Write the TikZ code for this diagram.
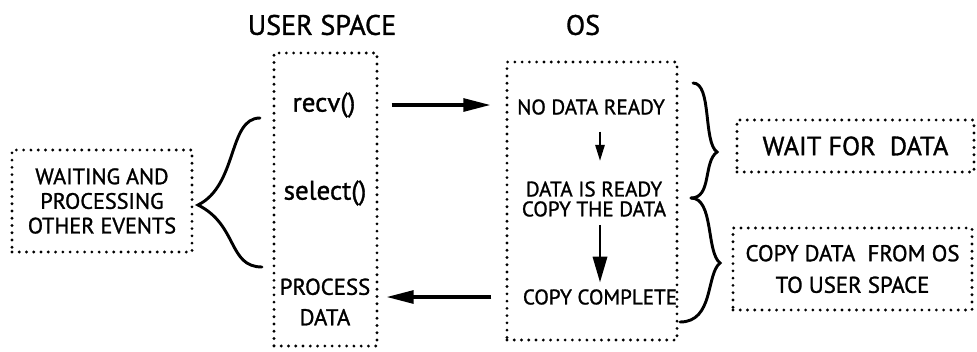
\documentclass[tikz,border=0pt]{standalone}
\usepackage{fontspec}
\setmainfont{PT Sans}[FakeBold=1.2]
\usetikzlibrary{arrows.meta,positioning,calc}

\begin{document}
\begin{tikzpicture}[
    x=0.03cm, y=-0.03cm,
    dotbox/.style={draw, line width=2.7pt, dash pattern=on 0pt off 6.2pt, line cap=round, inner sep=0pt, align=center},
    title/.style={font=\fontsize{24}{28}\selectfont, inner sep=0pt},
    callname/.style={font=\fontsize{23}{26}\selectfont, inner sep=0pt, align=center},
    ostxt/.style={font=\fontsize{18}{17}\selectfont, inner sep=0pt, align=center},
    sidetxt/.style={font=\fontsize{19.5}{27}\selectfont},
    arrow/.style={-{Triangle[length=23pt, width=11pt]}, line width=2.6pt},
    downarrow/.style={-{Triangle[length=#1, width=0.55*#1]}, line width=2.4pt},
    curly/.style={line width=2.5pt, line cap=round}
  ]
    \useasboundingbox (0,0) rectangle (977,351);

    % column titles
    \node[title] (usertitle) at (322,25) {USER SPACE};
    \node[title] (ostitle) at (583,25) {OS};

    % user space column
    \node[dotbox, minimum width=3.09cm, minimum height=8.79cm] (user) at (325.5,199.5) {};
    \node[callname] (recv) at (324,105) {recv()};
    \node[callname] (select) at (325,193) {select()};
    \node[callname, font=\fontsize{19.5}{26}\selectfont] (process) at (325,302) {PROCESS\\DATA};

    % os column
    \node[dotbox, minimum width=5.1cm, minimum height=8.34cm] (os) at (592,201) {};
    \node[ostxt] (nodata) at (591,107) {NO DATA READY};
    \node[ostxt] (ready) at (594,199) {DATA IS READY\\COPY THE DATA};
    \node[ostxt] (done) at (600,297) {COPY COMPLETE};

    % side notes
    \node[dotbox, minimum width=5.4cm, minimum height=3.06cm, font=\fontsize{19}{21}\selectfont] (events) at (102,201) {WAITING AND\\PROCESSING\\OTHER EVENTS};
    \node[dotbox, minimum width=7.11cm, minimum height=1.56cm, font=\fontsize{22.5}{27}\selectfont] (wait) at (855.5,146) {WAIT FOR\ \ DATA};
    \node[dotbox, minimum width=7.17cm, minimum height=2.46cm, sidetxt] (copy) at (852.5,269) {COPY DATA\ \ FROM OS\\TO USER SPACE};

    % calls and returns
    \draw[arrow, shorten <=0.39cm, shorten >=0.45cm] (user.east |- recv) -- (os.west |- recv);
    \draw[arrow, shorten <=0.42cm, shorten >=0.24cm] (os.west |- done) -- (user.east |- done);
    \draw[downarrow=14pt, shorten <=0.5cm, shorten >=0.6cm] (nodata.south -| done) -- (ready.north -| done);
    \draw[downarrow=22pt, shorten <=0.24cm, shorten >=0.2cm] (ready.south -| done) -- (done.north);

    % braces
    \draw[curly] (260,118) .. controls (228,118) and (238,185) .. (198,205) .. controls (238,225) and (228,267) .. (262,267);
    \draw[curly] (693,83) .. controls (712,83) and (703,142) .. (717,152) .. controls (703,162) and (712,198) .. (691,198);
    \draw[curly] (691,198) .. controls (714,198) and (706,252) .. (720,263) .. controls (706,274) and (714,322) .. (680,322);
  \end{tikzpicture}
\end{document}
